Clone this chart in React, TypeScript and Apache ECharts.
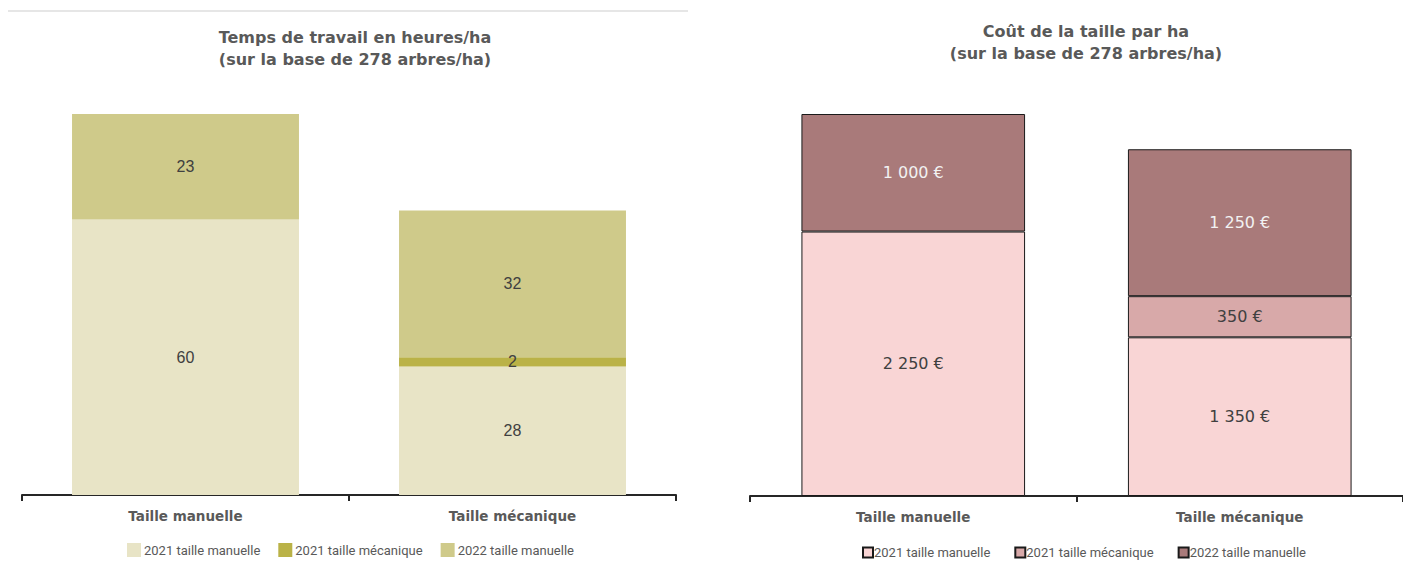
import React, { useEffect, useRef } from "react";
import * as echarts from "echarts";

const categories = ["Taille manuelle", "Taille mécanique"];
const seriesNames = ["2021 taille manuelle", "2021 taille mécanique", "2022 taille manuelle"];

const hours2021Manual = [60, 28];
const hours2021Mech = [null, 2];
const hours2022Manual = [23, 32];

const cost2021Manual = [2250, 1350];
const cost2021Mech = [null, 350];
const cost2022Manual = [1000, 1250];

const hoursColors = ["#E8E4C6", "#BAB247", "#CFCA8A"];
const costColors = ["#F9D5D5", "#D8A9A9", "#A97A7A"];
const costLabelColors = ["#404040", "#404040", "#F2F2F2"];

const SUFFIX = " #2";

function euro(v: number): string {
  return String(v).replace(/\B(?=(\d{3})+(?!\d))/g, " ") + " €";
}

export default function App() {
  const ref = useRef<HTMLDivElement>(null);
  useEffect(() => {
    if (!ref.current) return;
    const chart = echarts.init(ref.current, null, { renderer: "svg" });
    const hoursData = [hours2021Manual, hours2021Mech, hours2022Manual];
    const costData = [cost2021Manual, cost2021Mech, cost2022Manual];

    const titleStyle = {
      fontFamily: "DejaVu Sans",
      fontWeight: "bold" as const,
      fontSize: 16,
      color: "#595959",
      lineHeight: 22,
    };

    const xAxisCommon = {
      type: "category" as const,
      data: categories,
      axisLine: { show: true, lineStyle: { color: "#262626", width: 2 } },
      axisTick: { show: true, length: 6, lineStyle: { color: "#262626", width: 2 } },
      axisLabel: {
        margin: 14,
        fontFamily: "DejaVu Sans",
        fontWeight: "bold" as const,
        fontSize: 13.5,
        color: "#595959",
      },
      splitLine: { show: false },
    };

    const series: any[] = [];
    seriesNames.forEach((n, i) => {
      series.push({
        name: n,
        type: "bar",
        stack: "hours",
        xAxisIndex: 0,
        yAxisIndex: 0,
        barWidth: "69.4%",
        data: hoursData[i],
        itemStyle: { color: hoursColors[i] },
        label: {
          show: true,
          position: "inside",
          fontFamily: "Liberation Sans",
          fontSize: 16,
          color: "#404040",
        },
      });
    });
    seriesNames.forEach((n, i) => {
      series.push({
        name: n + SUFFIX,
        type: "bar",
        stack: "cost",
        xAxisIndex: 1,
        yAxisIndex: 1,
        barWidth: "68.5%",
        data: costData[i],
        itemStyle: { color: costColors[i], borderColor: "#1a1a1a", borderWidth: 1 },
        label: {
          show: true,
          position: "inside",
          fontFamily: "DejaVu Sans",
          fontSize: 16,
          color: costLabelColors[i],
          formatter: (p: any) => euro(p.value),
        },
      });
    });

    const legendText = { fontFamily: "Roboto", fontSize: 13, color: "#595959" };
    const hiddenY = (g: number, max: number) => ({
      type: "value" as const,
      gridIndex: g,
      min: 0,
      max,
      show: false,
      splitLine: { show: false },
    });

    chart.setOption({
      animation: false,
      title: [
        {
          text: "Temps de travail en heures/ha\n(sur la base de 278 arbres/ha)",
          left: 350,
          top: 21,
          textAlign: "center",
          textStyle: titleStyle,
        },
        {
          text: "Coût de la taille par ha\n(sur la base de 278 arbres/ha)",
          left: 1081,
          top: 15,
          textAlign: "center",
          textStyle: titleStyle,
        },
      ],
      graphic: [
        {
          type: "line",
          shape: { x1: 8, y1: 11, x2: 688, y2: 11 },
          style: { stroke: "#E6E6E6", lineWidth: 2 },
        },
      ],
      legend: [
        {
          data: seriesNames,
          left: 127,
          top: 543,
          padding: 0,
          itemWidth: 14,
          itemHeight: 14,
          itemGap: 18,
          icon: "rect",
          selectedMode: false,
          textStyle: { ...legendText, padding: [0, 0, 0, -2] },
        },
        {
          data: seriesNames.map((n) => n + SUFFIX),
          left: 862,
          top: 546,
          padding: 0,
          itemWidth: 10,
          itemHeight: 10,
          itemGap: 24,
          icon: "rect",
          selectedMode: false,
          formatter: (name: string) => name.replace(SUFFIX, ""),
          textStyle: { ...legendText, padding: [0, 0, 0, -4] },
        },
      ],
      grid: [
        { left: 22, width: 654, top: 114, height: 381 },
        { left: 750, width: 660, top: 114, height: 382 },
      ],
      xAxis: [
        { ...xAxisCommon, gridIndex: 0 },
        { ...xAxisCommon, gridIndex: 1 },
      ],
      yAxis: [hiddenY(0, 83), hiddenY(1, 3250)],
      series,
    });
    return () => chart.dispose();
  }, []);
  return (
    <div
      ref={ref}
      style={{ position: "fixed", left: 0, top: 0, width: 1403, height: 564, background: "#fff" }}
    />
  );
}
